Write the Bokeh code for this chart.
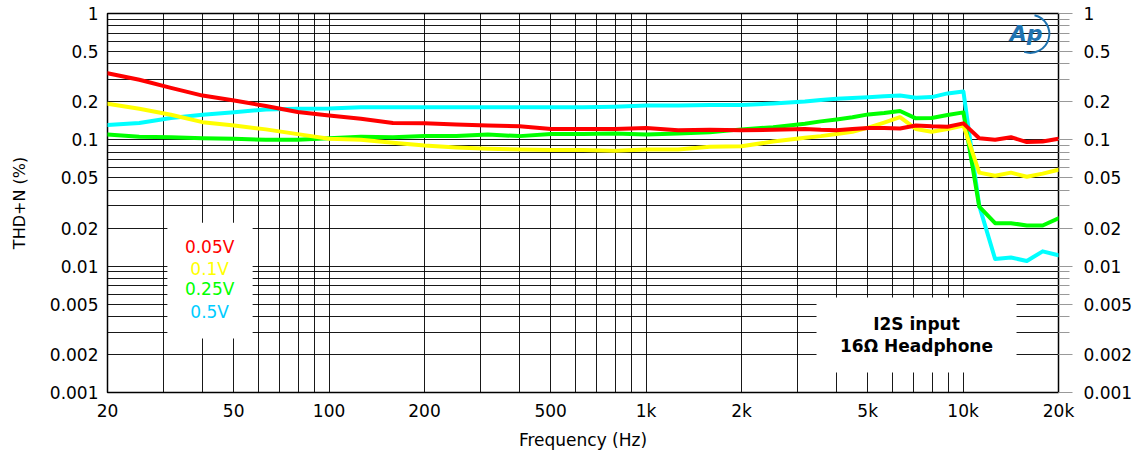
from bokeh.plotting import figure
from bokeh.models import (FixedTicker, LogAxis, CustomJSTickFormatter, BoxAnnotation,
                          Label, Range1d)
from bokeh.embed import file_html
from bokeh.resources import INLINE

# ---------------- data ----------------
freq = [20, 25.2, 31.7, 39.9, 50.2, 63.2, 79.6, 100, 126, 159, 200, 252, 317, 399,
        502, 632, 796, 1002, 1262, 1589, 2000, 2518, 3170, 3557, 3991, 4477, 5024,
        5637, 6325, 7096, 7962, 8934, 10024, 11247, 12619, 14159, 15887, 17825, 20000]

thd_005v = [0.337, 0.299, 0.258, 0.224, 0.205, 0.185, 0.166, 0.156, 0.147, 0.136, 0.135,
            0.132, 0.130, 0.128, 0.122, 0.122, 0.122, 0.124, 0.119, 0.120, 0.119, 0.120,
            0.122, 0.120, 0.119, 0.122, 0.124, 0.124, 0.123, 0.130, 0.128, 0.127, 0.135,
            0.103, 0.100, 0.105, 0.096, 0.097, 0.102]

thd_01v = [0.193, 0.176, 0.158, 0.138, 0.130, 0.121, 0.111, 0.102, 0.100, 0.095, 0.090,
           0.087, 0.085, 0.084, 0.083, 0.083, 0.082, 0.084, 0.084, 0.088, 0.089, 0.097,
           0.104, 0.107, 0.111, 0.116, 0.125, 0.137, 0.151, 0.122, 0.116, 0.122, 0.130,
           0.055, 0.052, 0.055, 0.051, 0.054, 0.058]

thd_025v = [0.110, 0.106, 0.105, 0.103, 0.102, 0.100, 0.100, 0.103, 0.106, 0.105, 0.107,
            0.107, 0.110, 0.107, 0.111, 0.111, 0.112, 0.110, 0.112, 0.115, 0.121, 0.126,
            0.134, 0.140, 0.145, 0.151, 0.159, 0.163, 0.169, 0.148, 0.149, 0.157, 0.165,
            0.0296, 0.0219, 0.0219, 0.0210, 0.0210, 0.0239]

thd_05v = [0.131, 0.136, 0.149, 0.158, 0.165, 0.174, 0.176, 0.177, 0.181, 0.181, 0.181,
           0.181, 0.181, 0.181, 0.181, 0.181, 0.183, 0.187, 0.187, 0.189, 0.189, 0.194,
           0.201, 0.207, 0.211, 0.214, 0.217, 0.221, 0.224, 0.215, 0.218, 0.233, 0.241,
           0.0300, 0.0114, 0.0117, 0.0110, 0.0131, 0.0122]

series_names = ["0.05V", "0.1V", "0.25V", "0.5V"]

x_tick_vals = [20, 50, 100, 200, 500, 1000, 2000, 5000, 10000, 20000]
y_tick_vals = [0.001, 0.002, 0.005, 0.01, 0.02, 0.05, 0.1, 0.2, 0.5, 1]

x_grid_vals = ([m * 10 for m in range(2, 10)] + [m * 100 for m in range(1, 10)] +
               [m * 1000 for m in range(1, 10)] + [10000, 20000])
y_grid_vals = [round(m * d, 4) for d in (0.001, 0.01, 0.1) for m in range(1, 10)] + [1]

annotation_lines = ["I2S input", "16\u03a9 Headphone"]

# ---------------- styling ----------------
FONT = "DejaVu Sans"
colors = ["#ff0000", "#ffff00", "#00ff00", "#00ffff"]
text_colors = ["#ff0000", "#ffff00", "#00ff00", "#00ccff"]

p = figure(width=1137, height=452, x_axis_type="log", y_axis_type="log",
           x_range=Range1d(20, 20000), y_range=Range1d(0.001, 1),
           output_backend="svg", toolbar_location=None,
           min_border_left=107, min_border_right=79, min_border_top=13, min_border_bottom=60)
p.background_fill_color = "white"
p.border_fill_color = "white"
p.outline_line_color = "black"
p.outline_line_width = 1.5

# grids
p.xgrid.ticker = FixedTicker(ticks=x_grid_vals)
p.ygrid.ticker = FixedTicker(ticks=y_grid_vals)
for g in (p.xgrid[0], p.ygrid[0]):
    g.grid_line_color = "black"
    g.grid_line_width = 1
    g.grid_line_alpha = 0.9

# bottom axis
xa = p.xaxis[0]
xa.ticker = FixedTicker(ticks=x_tick_vals, minor_ticks=[])
xa.formatter = CustomJSTickFormatter(code="return tick >= 1000 ? (tick/1000) + 'k' : String(tick);")
xa.axis_line_color = None
xa.major_tick_line_color = None
xa.minor_tick_line_color = None
xa.major_tick_out = 0
xa.major_tick_in = 0
xa.major_label_standoff = 8
xa.axis_label = "Frequency (Hz)"
xa.axis_label_standoff = 6
xa.axis_label_text_font_style = "normal"
xa.axis_label_text_font = FONT
xa.axis_label_text_font_size = "17px"
xa.axis_label_text_color = "black"
xa.major_label_text_font = FONT
xa.major_label_text_font_size = "17px"
xa.major_label_text_color = "black"

# left axis
ya = p.yaxis[0]
ya.ticker = FixedTicker(ticks=y_tick_vals, minor_ticks=[])
ya.formatter = CustomJSTickFormatter(code="return String(tick);")
ya.axis_line_color = None
ya.major_tick_line_color = None
ya.minor_tick_line_color = None
ya.major_tick_out = 0
ya.major_tick_in = 0
ya.major_label_standoff = 9
ya.axis_label = "THD+N (%)"
ya.axis_label_standoff = 18
ya.axis_label_text_font_style = "normal"
ya.axis_label_text_font = FONT
ya.axis_label_text_font_size = "16px"
ya.axis_label_text_color = "black"
ya.major_label_text_font = FONT
ya.major_label_text_font_size = "17px"
ya.major_label_text_color = "black"

# right axis
ra = LogAxis(ticker=FixedTicker(ticks=y_tick_vals, minor_ticks=y_grid_vals),
             formatter=CustomJSTickFormatter(code="return String(tick);"))
ra.axis_line_color = None
ra.major_tick_line_color = "#999999"
ra.minor_tick_line_color = "#999999"
ra.major_tick_out = 14
ra.minor_tick_out = 11
ra.major_tick_in = 0
ra.minor_tick_in = 0
ra.major_label_standoff = 11
ra.major_label_text_font = FONT
ra.major_label_text_font_size = "17px"
ra.major_label_text_color = "black"
p.add_layout(ra, "right")

# curves (drawn bottom to top)
series = [thd_005v, thd_01v, thd_025v, thd_05v]
for idx in (3, 2, 1, 0):
    p.line(freq, series[idx], line_color=colors[idx], line_width=4,
           line_join="round", line_cap="round")

# white legend / annotation panels
p.add_layout(BoxAnnotation(left=30.9, right=57.4, bottom=0.00267, top=0.0221,
                           fill_color="white", fill_alpha=1, line_color=None))
p.add_layout(BoxAnnotation(left=3449, right=14745, bottom=0.00144, top=0.00564,
                           fill_color="white", fill_alpha=1, line_color=None))

legend_y = [0.0141, 0.00952, 0.0066, 0.00432]
for name, yv, c in zip(series_names, legend_y, text_colors):
    p.add_layout(Label(x=42, y=yv, text=name, text_align="center", text_baseline="middle",
                       text_color=c, text_font=FONT, text_font_size="17px"))

for line_text, yv in zip(annotation_lines, [0.00351, 0.00232]):
    p.add_layout(Label(x=7129, y=yv, text=line_text, text_align="center",
                       text_baseline="middle", text_color="black", text_font=FONT,
                       text_font_size="17px", text_font_style="bold"))

# AP logo
p.add_layout(Label(x=15800, y=0.69, text="Ap", text_align="center", text_baseline="middle",
                   text_color="#1f73b0", text_font=FONT, text_font_size="22px",
                   text_font_style="bold italic"))
p.arc(x=[16300], y=[0.69], radius=19, radius_units="screen", start_angle=-1.9,
      end_angle=1.35, line_color="#1f73b0", line_width=2)

open("out.html", "w").write(file_html(p, INLINE))
